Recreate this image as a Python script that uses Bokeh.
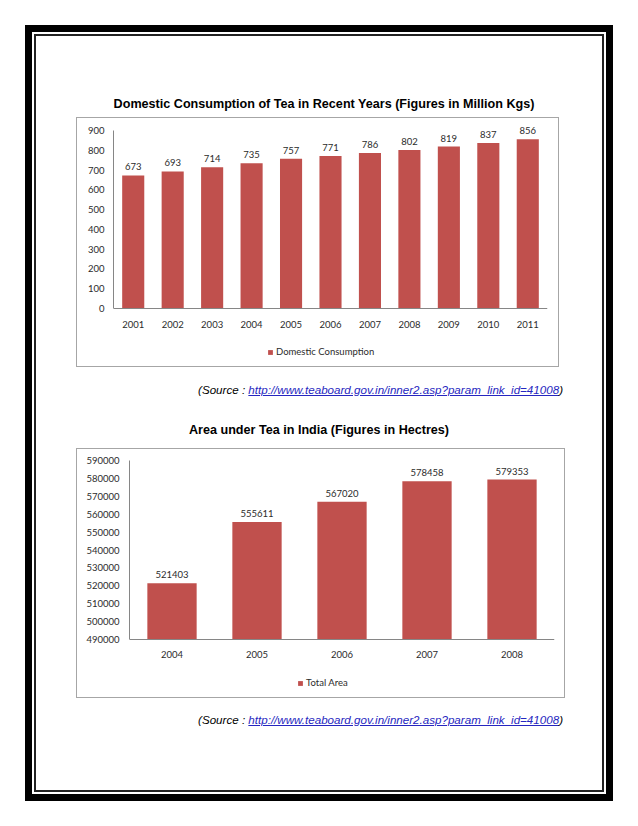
from bokeh.plotting import figure
from bokeh.layouts import column
from bokeh.models import (FactorRange, Range1d, ColumnDataSource, Div, Spacer,
                          SingleIntervalTicker, BasicTickFormatter)
from bokeh.embed import file_html
from bokeh.resources import INLINE
from bokeh.core.properties import value

# ---------------- data ----------------
years1 = ["2001", "2002", "2003", "2004", "2005", "2006", "2007", "2008", "2009", "2010", "2011"]
consumption = [673, 693, 714, 735, 757, 771, 786, 802, 819, 837, 856]
years2 = ["2004", "2005", "2006", "2007", "2008"]
area = [521403, 555611, 567020, 578458, 579353]

title1 = "Domestic Consumption of Tea in Recent Years (Figures in Million Kgs)"
title2 = "Area under Tea in India (Figures in Hectres)"
series1 = "Domestic Consumption"
series2 = "Total Area"
source_prefix = "(Source : "
source_url = "http://www.teaboard.gov.in/inner2.asp?param_link_id=41008"
source_suffix = ")"

y1_min, y1_max, y1_step = 0, 900, 100
y2_min, y2_max, y2_step = 490000, 590000, 10000

# ---------------- style ----------------
BAR = "#C0504D"
TXT = "#2b2b2b"
AXIS = "#868686"
BOX = "#A6A6A6"
CAL = "Lato"
ARIAL = "'Liberation Sans', Arial, sans-serif"
LINK = "#2626c0"


def title_div(text, width, top, left):
    html = (f'<div style="width:{width}px;font-family:{ARIAL};font-weight:bold;font-size:12.6px;'
            f'line-height:16px;text-align:center;color:black;white-space:nowrap;">{text}</div>')
    return Div(text=html, width=width, height=16, margin=(top, 0, 0, left))


def source_div(width, top):
    html = (f'<div style="width:{width}px;font-family:{ARIAL};font-style:italic;font-size:11.6px;'
            f'line-height:14px;text-align:right;color:black;white-space:nowrap;">'
            f'{source_prefix}<a href="{source_url}" style="color:{LINK};text-decoration:underline;">'
            f'{source_url}</a>{source_suffix}</div>')
    return Div(text=html, width=width, height=14, margin=(top, 0, 0, 0))


def style_axes(p, standoff_x, standoff_y):
    p.xgrid.grid_line_color = None
    p.ygrid.grid_line_color = None
    p.outline_line_color = None
    for ax in (p.xaxis[0], p.yaxis[0]):
        ax.axis_line_color = AXIS
        ax.major_tick_out = 0
        ax.major_tick_in = 0
        ax.minor_tick_out = 0
        ax.minor_tick_in = 0
        ax.major_label_text_font = CAL
        ax.major_label_text_font_size = "9.5px"
        ax.major_label_text_color = TXT
    p.xaxis.major_label_standoff = standoff_x
    p.yaxis.major_label_standoff = standoff_y


def style_legend(p, loc):
    lg = p.legend[0]
    lg.location = loc
    lg.orientation = "horizontal"
    lg.padding = 0
    lg.margin = 0
    lg.spacing = 0
    lg.border_line_color = None
    lg.background_fill_alpha = 0
    lg.glyph_width = 6
    lg.glyph_height = 6
    lg.label_standoff = 3
    lg.label_height = 10
    lg.label_text_font = CAL
    lg.label_text_font_size = "9.5px"
    lg.label_text_color = TXT
    lg.label_text_baseline = "middle"


def chart(factors, vals, fw, yr, plot_px, head_px, foot_px, bw, step, left, right,
          series, sx, sy, margin_top, legend_loc):
    # plot_px: pixels between y min and y max; head/foot: frame space above / below them
    span = yr[1] - yr[0]
    per_px = span / plot_px
    y_start = yr[0] - foot_px * per_px
    y_end = yr[1] + head_px * per_px
    p = figure(frame_width=fw, frame_height=plot_px + head_px + foot_px,
               x_range=FactorRange(factors=factors),
               y_range=Range1d(y_start, y_end), output_backend="svg", toolbar_location=None,
               min_border_left=left, min_border_right=right, min_border_top=1,
               min_border_bottom=0, margin=(margin_top, 0, 0, 41),
               styles={"box-shadow": f"0 0 0 1px {BOX}"})
    src = ColumnDataSource(dict(x=factors, y=vals, label=[str(v) for v in vals]))
    p.vbar(x="x", top="y", bottom=yr[0], width=bw, source=src, fill_color=BAR,
           line_color=None, legend_label=series)
    p.text(x="x", y="y", text="label", source=src, text_align="center", text_baseline="bottom",
           y_offset=-5, text_font=value(CAL), text_font_size=value("9.5px"), text_color=TXT)
    p.yaxis.ticker = SingleIntervalTicker(interval=step)
    p.yaxis.formatter = BasicTickFormatter(use_scientific=False)
    p.yaxis.bounds = (yr[0], yr[1])
    p.xaxis.fixed_location = yr[0]
    style_axes(p, sx, sy)
    style_legend(p, legend_loc)
    return p


# chart 1: box y 118..366, frame x 113..547, 900 at y=130, 0 at y=308
pa = chart(years1, consumption, 434, (y1_min, y1_max), 178, 11, 58, 0.56, y1_step, 36, 11,
           series1, 12, 9, 6, (154, 9))
# chart 2: box y 449..697, frame x 129..554, 590000 at y=460, 490000 at y=639
pb = chart(years2, area, 425, (y2_min, y2_max), 179, 10, 58, 0.58, y2_step, 52, 10,
           series2, 11, 10, 11, (168, 9))

t1 = title_div(title1, 556, 60, 10)
s1 = source_div(527, 16)
t2 = title_div(title2, 566, 26, 0)
s2 = source_div(527, 15)

block_a = column(t1, pa, s1, spacing=0)
block_b = column(t2, pb, s2, spacing=0)

page = column(block_a, block_b, Spacer(width=566, height=64), spacing=0, margin=(36, 0, 0, 36),
              styles={"box-shadow": "0 0 0 2px #222222, 0 0 0 4px white, 0 0 0 11px black",
                      "background-color": "white"})

open("out.html", "w").write(file_html(page, INLINE))
